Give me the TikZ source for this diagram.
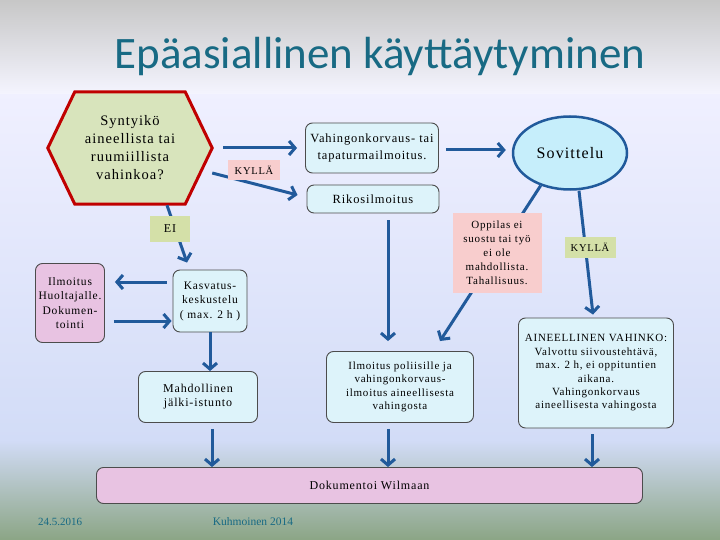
\documentclass[tikz,border=0pt]{standalone}
\usepackage{fontspec}
\setmainfont{Liberation Serif}
\newfontfamily\titlefont{Carlito}
\newfontfamily\boxfont[LetterSpace=7]{Liberation Serif}
\usetikzlibrary{arrows.meta,calc,shapes.geometric}
\definecolor{arrowblue}{RGB}{33,90,155}
\definecolor{boxcyan}{RGB}{221,243,250}
\definecolor{boxpink}{RGB}{232,195,226}
\definecolor{hexgreen}{RGB}{216,228,188}
\definecolor{hexred}{RGB}{192,0,0}
\definecolor{notepink}{RGB}{248,205,205}
\definecolor{notegreen}{RGB}{212,224,168}
\definecolor{sovblue}{RGB}{198,238,251}
\definecolor{titleteal}{RGB}{24,106,132}
\tikzset{
  box/.style={draw=black!70, line width=0.9pt, rounded corners=7pt, fill=boxcyan,
    align=center, inner sep=2pt, font=\boxfont\fontsize{12}{14}\selectfont},
  pinkbox/.style={box, fill=boxpink},
  note/.style={fill=notepink, align=center, inner sep=2pt, font=\boxfont\fontsize{10.5}{14}\selectfont},
  greennote/.style={note, fill=notegreen},
  arr/.style={draw=arrowblue, line width=3pt, -{Straight Barb[length=6pt,width=14pt]}},
}

\begin{document}
\begin{tikzpicture}[x=1pt,y=-1pt]
  \useasboundingbox (0,0) rectangle (720,540);
  \shade[top color=black!22, bottom color=white!96!blue] (0,0) rectangle (720,95);
  \shade[top color=white!94!blue, bottom color={rgb,255:red,210;green,220;blue,247}] (0,95) rectangle (720,440);
  \shade[top color={rgb,255:red,210;green,220;blue,247}, bottom color={rgb,255:red,139;green,165;blue,133}] (0,440) rectangle (720,540);

  \node[font=\titlefont\fontsize{45}{48}\selectfont, text=titleteal] (title) at (380,57) {Epäasiallinen käyttäytyminen};

  % question
  \node[minimum width=164, minimum height=112, inner sep=0pt] (q) at (130,148) {};
  \filldraw[draw=hexred, fill=hexgreen, line width=3pt, line join=miter]
    (q.west) -- ($(q.north west)+(27,0)$) -- ($(q.north east)+(-27,0)$) -- (q.east)
    -- ($(q.south east)+(-27,0)$) -- ($(q.south west)+(27,0)$) -- cycle;
  \node[align=center, font=\boxfont\fontsize{14.5}{18}\selectfont] at (q) {Syntyikö\\aineellista tai\\ruumiillista\\vahinkoa?};

  \node[box, minimum width=133, minimum height=50, font=\boxfont\fontsize{12.5}{17}\selectfont] (vk) at (372,148) {Vahingonkorvaus- tai\\tapaturmailmoitus.};
  \node[box, minimum width=132, minimum height=28, font=\boxfont\fontsize{12.5}{17}\selectfont] (rik) at (373,199) {Rikosilmoitus};
  \node[ellipse, draw=arrowblue, line width=2.5pt, fill=sovblue, minimum width=114, minimum height=73,
        font=\boxfont\fontsize{16}{18}\selectfont] (sov) at (570,153) {Sovittelu};
  \node[box, minimum width=74, minimum height=62, font=\boxfont\fontsize{11.5}{14.5}\selectfont] (kas) at (210,301) {Kasvatus-\\keskustelu\\( max. 2 h )};
  \node[pinkbox, minimum width=69, minimum height=79, font=\boxfont\fontsize{11.5}{14.5}\selectfont] (huol) at (70,303) {Ilmoitus\\Huoltajalle.\\Dokumen-\\tointi};
  \node[box, minimum width=119, minimum height=51] (mahd) at (198,397) {Mahdollinen\\jälki-istunto};
  \node[box, minimum width=147, minimum height=71, font=\boxfont\fontsize{11}{13.5}\selectfont] (pol) at (400,387) {Ilmoitus poliisille ja\\vahingonkorvaus-\\ilmoitus aineellisesta\\vahingosta};
  \node[box, minimum width=155, minimum height=110, font=\boxfont\fontsize{11}{13.4}\selectfont] (ain) at (596,373) {AINEELLINEN VAHINKO:\\Valvottu siivoustehtävä,\\max. 2 h, ei oppituntien\\aikana.\\Vahingonkorvaus\\aineellisesta vahingosta};
  \node[pinkbox, minimum width=546, minimum height=36] (dok) at (369.5,485.5) {Dokumentoi Wilmaan};

  \draw[arr] ($(q.east)+(11,0)$) -- ($(vk.west)+(-8,0)$);
  \draw[arr] ($(q.east)+(0,25)$) -- ($(rik.west)+(-9,-4)$);
  \draw[arr] ($(q.south)+(37,1)$) -- ($(kas.north)+(-23,-7)$);
  \draw[arr] ($(vk.east)+(7,2)$) -- ($(vk.east -| sov.west)+(-6,2)$);
  \draw[arr] (sov.228) -- ($(pol.north)+(40,-10)$);
  \draw[arr] ($(sov.south)+(9,0)$) -- ($(ain.north)+(-3,-3)$);
  \draw[arr] ($(rik.south)+(15,7)$) -- ($(pol.north)+(-12,-10)$);
  \draw[arr] ($(kas.west)+(-6,-19)$) -- ($(huol.east)+(10,-21)$);
  \draw[arr] ($(huol.east)+(9,18)$) -- ($(kas.west)+(-1,20)$);
  \draw[arr] (kas.south) -- (kas.south |- mahd.north);
  \foreach \n/\dx in {mahd/14, pol/-12, ain/-4} {
    \coordinate (s) at ($(\n.south)+(\dx,6)$);
    \draw[arr] (s) -- (s |- dok.north);
  }

  \node[note, minimum width=52, minimum height=20] (kyl1) at (254,170) {KYLLÄ};
  \node[greennote, minimum width=40, minimum height=25, font=\boxfont\fontsize{12}{14}\selectfont] (ei) at (170,229) {EI};
  \node[note, minimum width=89, minimum height=80, font=\boxfont\fontsize{11}{14}\selectfont] (opp) at (497,253) {Oppilas ei\\suostu tai työ\\ei ole\\mahdollista.\\Tahallisuus.};
  \node[greennote, minimum width=51, minimum height=21] (kyl2) at (590,247) {KYLLÄ};

  \node[text=titleteal, font=\fontsize{11}{12}\selectfont] (date) at (60,522) {24.5.2016};
  \node[text=titleteal, font=\fontsize{11.5}{12}\selectfont] (author) at (253,522) {Kuhmoinen 2014};
\end{tikzpicture}
\end{document}
